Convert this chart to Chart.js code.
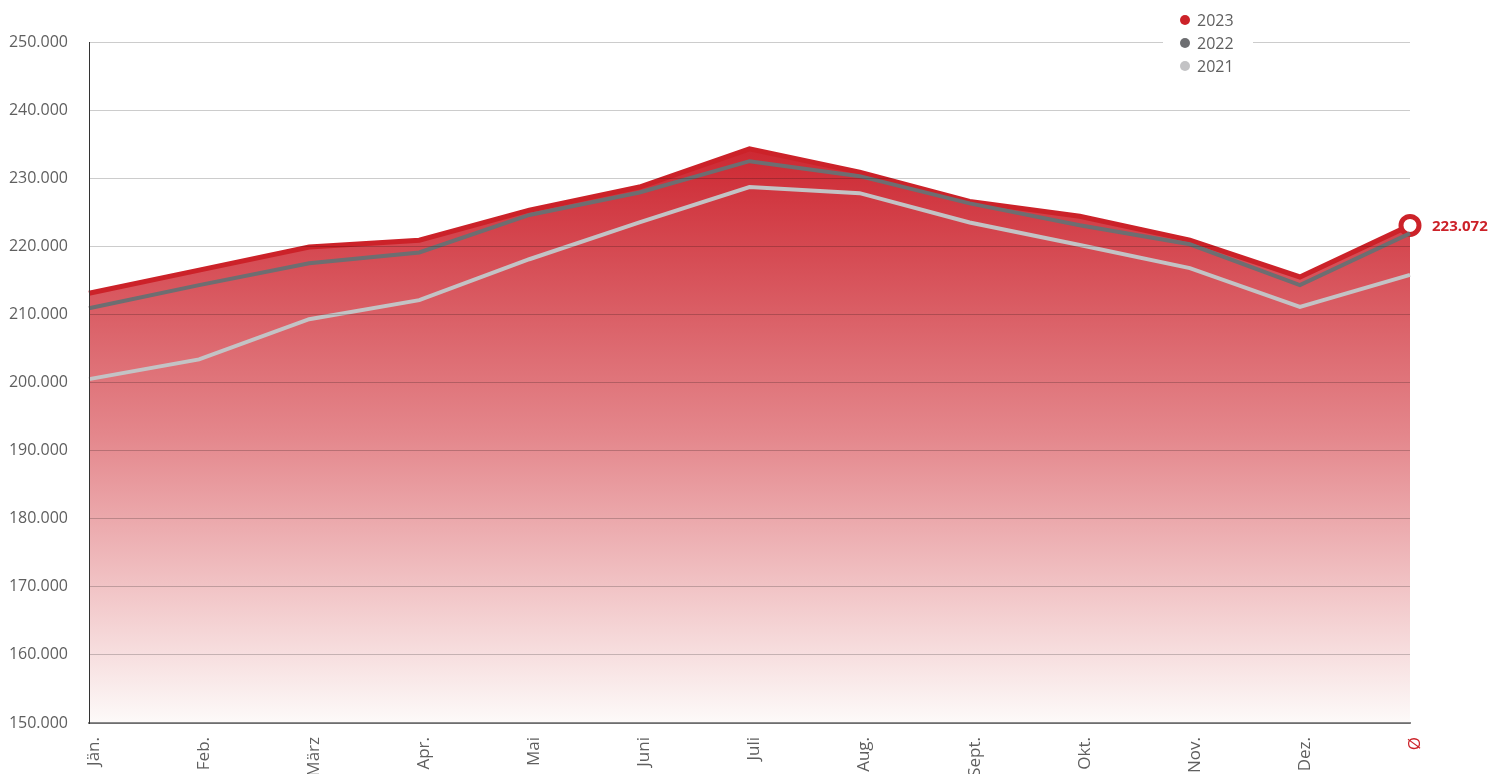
<!DOCTYPE html>
<html>
<head>
<meta charset="utf-8">
<script src="https://cdn.jsdelivr.net/npm/chart.js@4.4.1/dist/chart.umd.min.js"></script>
<style>
  html, body { margin: 0; padding: 0; background: #fff; overflow: hidden; }
  #wrap { width: 1490px; height: 800px; position: relative; }
</style>
</head>
<body>
<div id="wrap"><canvas id="visitorsChart"></canvas></div>
<script>
// Kategorien (Monate + Durchschnitt)
const months = ["Jän.", "Feb.", "März", "Apr.", "Mai", "Juni", "Juli", "Aug.", "Sept.", "Okt.", "Nov.", "Dez.", "Ø"];

// Werte je Jahr
const values2023 = [213100, 216500, 219900, 220900, 225300, 228700, 234300, 230900, 226600, 224400, 220900, 215500, 223072];
const values2022 = [210900, 214300, 217500, 219100, 224600, 227900, 232500, 230300, 226300, 223100, 220300, 214300, 221900];
const values2021 = [200500, 203400, 209300, 212100, 218100, 223500, 228700, 227800, 223500, 220200, 216800, 211100, 215800];

// Achse
const yTicks = [150000, 160000, 170000, 180000, 190000, 200000, 210000, 220000, 230000, 240000, 250000];

const RED = "#cc2229";
const DARK = "#6d6e71";
const LIGHT = "#c3c3c5";
const TEXT = "#5f5f5f";

function fmt(v) {
  return String(Math.round(v)).replace(/\B(?=(\d{3})+(?!\d))/g, ".");
}

// Rote Verlaufsfläche
function redGradient(ctx) {
  const chart = ctx.chart;
  const area = chart.chartArea;
  if (!area) return "rgba(205,40,50,0.8)";
  const top = chart.scales.y.getPixelForValue(Math.max(...values2023));
  const g = chart.ctx.createLinearGradient(0, top, 0, area.bottom);
  g.addColorStop(0, "rgb(205,40,50)");
  g.addColorStop(0.5, "rgb(228,135,140)");
  g.addColorStop(1, "rgb(253,250,249)");
  return g;
}

// Legende oben rechts + Wert am Ø-Punkt
const extras = {
  id: "extras",
  afterDraw(chart) {
    const c = chart.ctx;
    c.save();
    // Legende
    c.fillStyle = "#fff";
    c.fillRect(1163, 8, 90, 70);
    c.font = "16px 'Open Sans'";
    c.textBaseline = "middle";
    c.textAlign = "left";
    chart.data.datasets.forEach((ds, i) => {
      const y = 20 + i * 23;
      c.fillStyle = ds.borderColor;
      c.beginPath();
      c.arc(1185, y, 5, 0, Math.PI * 2);
      c.fill();
      c.fillStyle = TEXT;
      c.fillText(ds.label, 1197, y + 1);
    });
    // Ø-Wert
    const meta = chart.getDatasetMeta(0);
    const pt = meta.data[meta.data.length - 1];
    c.fillStyle = RED;
    c.font = "bold 15px 'Open Sans'";
    c.fillText(fmt(values2023[values2023.length - 1]), pt.x + 22, pt.y + 1);
    c.restore();
  }
};

const ctx = document.getElementById("visitorsChart");
new Chart(ctx, {
  type: "line",
  data: {
    labels: months,
    datasets: [
      {
        label: "2023",
        data: values2023,
        borderColor: RED,
        borderWidth: 5,
        fill: "start",
        backgroundColor: redGradient,
        tension: 0,
        order: 3,
        clip: false,
        pointRadius: (c) => (c.dataIndex === values2023.length - 1 ? 9 : 0),
        pointBackgroundColor: "#fff",
        pointBorderColor: RED,
        pointBorderWidth: 5,
        pointHoverRadius: 0
      },
      {
        label: "2022",
        data: values2022,
        borderColor: DARK,
        borderWidth: 4,
        fill: false,
        tension: 0,
        order: 2,
        pointRadius: 0
      },
      {
        label: "2021",
        data: values2021,
        borderColor: LIGHT,
        borderWidth: 4,
        fill: false,
        tension: 0,
        order: 1,
        pointRadius: 0
      }
    ]
  },
  options: {
    responsive: true,
    maintainAspectRatio: false,
    animation: false,
    layout: { padding: { top: 42, right: 80, left: 0, bottom: 0 } },
    plugins: {
      legend: { display: false },
      tooltip: { enabled: false }
    },
    scales: {
      x: {
        offset: false,
        grid: { display: false, drawTicks: false },
        border: { display: true, color: "#8a8a8a", width: 2, z: 1 },
        ticks: {
          autoSkip: false,
          minRotation: 90,
          maxRotation: 90,
          padding: 14,
          labelOffset: 5,
          font: { family: "'Open Sans'", size: 17 },
          color: (c) => (c.index === months.length - 1 ? RED : TEXT)
        },
        afterFit(scale) { scale.height = 77; }
      },
      y: {
        min: yTicks[0],
        max: yTicks[yTicks.length - 1],
        afterBuildTicks(scale) { scale.ticks = yTicks.map(v => ({ value: v })); },
        grid: { color: "rgba(0,0,0,0.2)", lineWidth: 1, drawTicks: false, z: 1 },
        border: { display: true, color: "#333", width: 1, z: 1 },
        ticks: {
          padding: 21,
          font: { family: "'Open Sans'", size: 16 },
          color: TEXT,
          callback: (v) => fmt(v)
        },
        afterFit(scale) { scale.width = 89; }
      }
    }
  },
  plugins: [extras]
});
</script>
</body>
</html>
